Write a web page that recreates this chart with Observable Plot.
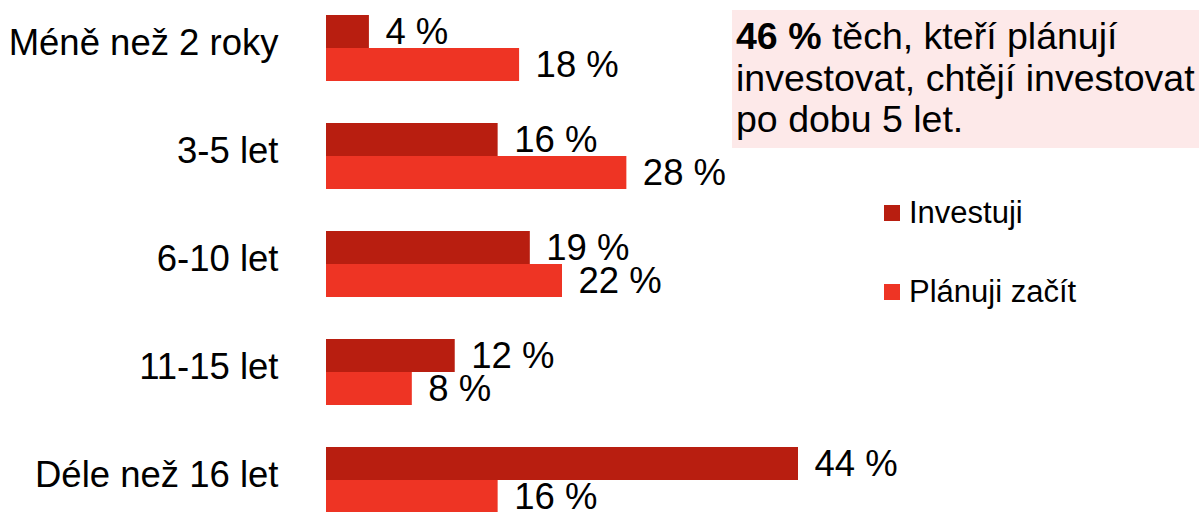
<!DOCTYPE html>
<html>
<head>
<meta charset="utf-8">
<script src="https://cdn.jsdelivr.net/npm/d3@7"></script>
<script src="https://cdn.jsdelivr.net/npm/@observablehq/plot@0.6"></script>
<style>
  html, body { margin: 0; padding: 0; background: #fff; overflow: hidden; }
  #wrap { position: relative; width: 1199px; height: 512px; font-family: "Liberation Sans", Arial, sans-serif; color: #000; }
  #chart svg { display: block; }
  #note { position: absolute; left: 732px; top: 10px; width: 467px; height: 138px; background: #fde9e9;
          box-sizing: border-box; padding: 6px 0 0 4px; font-size: 37.5px; line-height: 41.7px; white-space: nowrap; }
  #legend { position: absolute; left: 884px; top: 197px; display: flex; flex-direction: column; gap: 46.5px; }
  .item { display: flex; align-items: center; height: 32px; font-size: 31px; }
  .sw { width: 16px; height: 16px; margin-right: 9px; flex: none; }
</style>
</head>
<body>
<div id="wrap">
  <div id="chart"></div>
  <div id="note"></div>
  <div id="legend"></div>
</div>
<script>
const categories = ["Méně než 2 roky", "3-5 let", "6-10 let", "11-15 let", "Déle než 16 let"];
const series = ["Investuji", "Plánuji začít"];
const investuji = [4, 16, 19, 12, 44];
const planuji = [18, 28, 22, 8, 16];
const colors = ["#b81e10", "#ee3424"];
const noteBold = "46 %";
const noteLines = [" těch, kteří plánují", "investovat, chtějí investovat", "po dobu 5 let."];

const data = categories.flatMap((c, i) => [
  {category: c, series: series[0], value: investuji[i]},
  {category: c, series: series[1], value: planuji[i]}
]);

const chart = Plot.plot({
  width: 1199,
  height: 512,
  marginLeft: 326,
  marginRight: 401,
  marginTop: 13,
  marginBottom: 0,
  style: {fontSize: "36.5px", fontFamily: "'Liberation Sans', Arial, sans-serif", color: "#000", background: "transparent", overflow: "visible"},
  x: {domain: [0, 44], axis: null},
  y: {domain: series, axis: null, padding: 0},
  fy: {domain: categories, range: [13.3, 514.1], paddingInner: 0.378, paddingOuter: 0},
  color: {domain: series, range: colors},
  marks: [
    Plot.barX(data, {fy: "category", y: "series", x: "value", fill: "series"}),
    Plot.text(data, {fy: "category", y: "series", x: "value", text: d => `${d.value} %`, textAnchor: "start", dx: 16, fill: "#000"}),
    Plot.axisFy({anchor: "left", tickSize: 0, tickPadding: 48, label: null, dy: -5, fill: "#000"})
  ]
});
document.getElementById("chart").appendChild(chart);

const note = document.getElementById("note");
note.innerHTML = `<b>${noteBold}</b>${noteLines[0]}<br>${noteLines[1]}<br>${noteLines[2]}`;

const legend = document.getElementById("legend");
series.forEach((s, i) => {
  const item = document.createElement("div");
  item.className = "item";
  const sw = document.createElement("span");
  sw.className = "sw";
  sw.style.background = colors[i];
  item.appendChild(sw);
  item.appendChild(document.createTextNode(s));
  legend.appendChild(item);
});
</script>
</body>
</html>
